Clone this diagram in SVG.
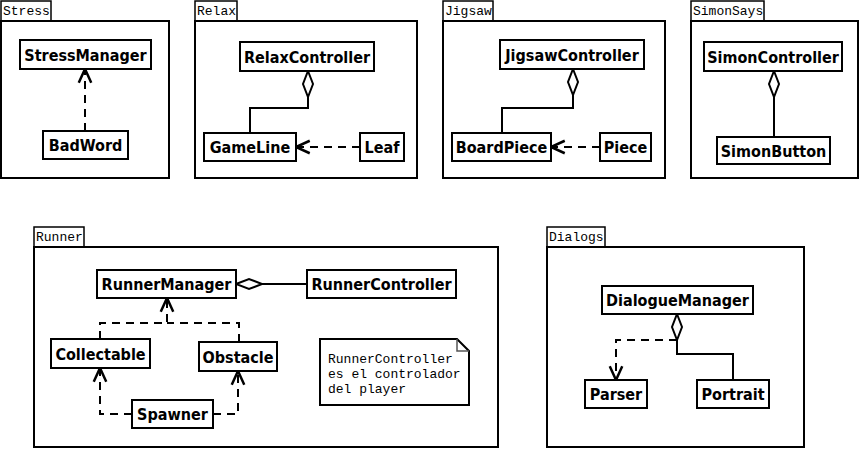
<svg xmlns="http://www.w3.org/2000/svg" width="859" height="449" viewBox="0 0 859 449">
<style>
.pkg{fill:#fff;stroke:#000;stroke-width:2}
.tab{fill:#fff;stroke:#000;stroke-width:1.5}
.tl{font-family:"Liberation Mono",monospace;font-size:13px;fill:#000}
.box{fill:#fff;stroke:#000;stroke-width:2}
.bt{font-family:"DejaVu Sans Condensed","DejaVu Sans",sans-serif;font-stretch:condensed;font-weight:bold;font-size:16px;text-anchor:middle;fill:#000}
.ln{fill:none;stroke:#000;stroke-width:2}
.ds{fill:none;stroke:#000;stroke-width:2;stroke-dasharray:8 6}
.note{fill:#fff;stroke:#000;stroke-width:2}
.nt{font-family:"Liberation Mono",monospace;font-size:13px;fill:#000}
</style>
<defs>
<marker id="arr" markerUnits="userSpaceOnUse" markerWidth="20" markerHeight="20" viewBox="-14 -8 16 16" refX="0" refY="0" orient="auto">
<path d="M-11,-5 L0,0 L-11,5" fill="none" stroke="#000" stroke-width="2"/>
</marker>
<marker id="dia" markerUnits="userSpaceOnUse" markerWidth="32" markerHeight="16" viewBox="-2 -8 32 16" refX="0" refY="0" orient="auto">
<path d="M0,0 L13,-5 L26,0 L13,5 Z" fill="#fff" stroke="#000" stroke-width="2"/>
</marker>
</defs>

<g id="pkg-stress">
<rect class="tab" x="1" y="1" width="50" height="20"/>
<rect class="pkg" x="1" y="21" width="168" height="157"/>
<text class="tl" x="3" y="15">Stress</text>
</g>
<g id="pkg-relax">
<rect class="tab" x="195" y="1" width="42" height="20"/>
<rect class="pkg" x="195" y="21" width="222" height="157"/>
<text class="tl" x="197" y="15">Relax</text>
</g>
<g id="pkg-jigsaw">
<rect class="tab" x="443" y="1" width="50" height="20"/>
<rect class="pkg" x="443" y="21" width="222" height="157"/>
<text class="tl" x="445" y="15">Jigsaw</text>
</g>
<g id="pkg-simonsays">
<rect class="tab" x="691" y="1" width="73" height="20"/>
<rect class="pkg" x="691" y="21" width="167" height="157"/>
<text class="tl" x="693" y="15">SimonSays</text>
</g>
<g id="pkg-runner">
<rect class="tab" x="34" y="227" width="50" height="20"/>
<rect class="pkg" x="34" y="247" width="464" height="200"/>
<text class="tl" x="36" y="241">Runner</text>
</g>
<g id="pkg-dialogs">
<rect class="tab" x="547" y="227" width="58" height="20"/>
<rect class="pkg" x="547" y="247" width="257" height="200"/>
<text class="tl" x="549" y="241">Dialogs</text>
</g>

<g id="connectors">
<path class="ds" d="M85,131 V69" marker-end="url(#arr)"/>
<path class="ln" d="M308,71 V108 H250 V133" marker-start="url(#dia)"/>
<path class="ds" d="M360,147 H296" marker-end="url(#arr)"/>
<path class="ln" d="M573,69 V108 H502 V133" marker-start="url(#dia)"/>
<path class="ds" d="M600,147 H551" marker-end="url(#arr)"/>
<path class="ln" d="M774,71 V137" marker-start="url(#dia)"/>
<path class="ln" d="M236,284 H307" marker-start="url(#dia)"/>
<path class="ds" d="M100,339 V323 H167 V298" marker-end="url(#arr)"/>
<path class="ds" d="M239,342 V323 H167"/>
<path class="ds" d="M132,414 H100 V368" marker-end="url(#arr)"/>
<path class="ds" d="M213,414 H238 V371" marker-end="url(#arr)"/>
<path class="ds" d="M677,340 H616 V380" marker-end="url(#arr)"/>
<path class="ln" d="M677,314 V354 H733 V380" marker-start="url(#dia)"/>
</g>

<g id="StressManager"><rect class="box" x="20" y="40" width="131" height="29"/><text class="bt" x="85.5" y="61">StressManager</text></g>
<g id="BadWord"><rect class="box" x="43" y="131" width="85" height="28"/><text class="bt" x="85.5" y="151">BadWord</text></g>
<g id="RelaxController"><rect class="box" x="240" y="42" width="134" height="29"/><text class="bt" x="307" y="63">RelaxController</text></g>
<g id="GameLine"><rect class="box" x="204" y="133" width="92" height="28"/><text class="bt" x="250" y="153">GameLine</text></g>
<g id="Leaf"><rect class="box" x="360" y="133" width="44" height="28"/><text class="bt" x="382" y="153">Leaf</text></g>
<g id="JigsawController"><rect class="box" x="500" y="40" width="144" height="29"/><text class="bt" x="572" y="61">JigsawController</text></g>
<g id="BoardPiece"><rect class="box" x="452" y="133" width="99" height="28"/><text class="bt" x="501.5" y="153">BoardPiece</text></g>
<g id="Piece"><rect class="box" x="600" y="133" width="51" height="28"/><text class="bt" x="625.5" y="153">Piece</text></g>
<g id="SimonController"><rect class="box" x="704" y="42" width="138" height="29"/><text class="bt" x="773" y="63">SimonController</text></g>
<g id="SimonButton"><rect class="box" x="717" y="137" width="113" height="27"/><text class="bt" x="773.5" y="157">SimonButton</text></g>
<g id="RunnerManager"><rect class="box" x="97" y="270" width="139" height="28"/><text class="bt" x="166.5" y="290">RunnerManager</text></g>
<g id="RunnerController"><rect class="box" x="307" y="270" width="149" height="28"/><text class="bt" x="381.5" y="290">RunnerController</text></g>
<g id="Collectable"><rect class="box" x="51" y="339" width="99" height="29"/><text class="bt" x="100.5" y="360">Collectable</text></g>
<g id="Obstacle"><rect class="box" x="199" y="342" width="78" height="29"/><text class="bt" x="238" y="363">Obstacle</text></g>
<g id="Spawner"><rect class="box" x="132" y="400" width="81" height="28"/><text class="bt" x="172.5" y="420">Spawner</text></g>
<g id="note">
<path class="note" d="M320,339 H457 L469,351 V405 H320 Z"/>
<path d="M457,339 V351 H469" fill="none" stroke="#555" stroke-width="1.5"/>
<text class="nt" x="328" y="363">RunnerController</text>
<text class="nt" x="328" y="378">es el controlador</text>
<text class="nt" x="328" y="393">del player</text>
</g>
<g id="DialogueManager"><rect class="box" x="602" y="286" width="151" height="28"/><text class="bt" x="677.5" y="306">DialogueManager</text></g>
<g id="Parser"><rect class="box" x="585" y="380" width="62" height="28"/><text class="bt" x="616" y="400">Parser</text></g>
<g id="Portrait"><rect class="box" x="697" y="380" width="72" height="28"/><text class="bt" x="733" y="400">Portrait</text></g>
</svg>
